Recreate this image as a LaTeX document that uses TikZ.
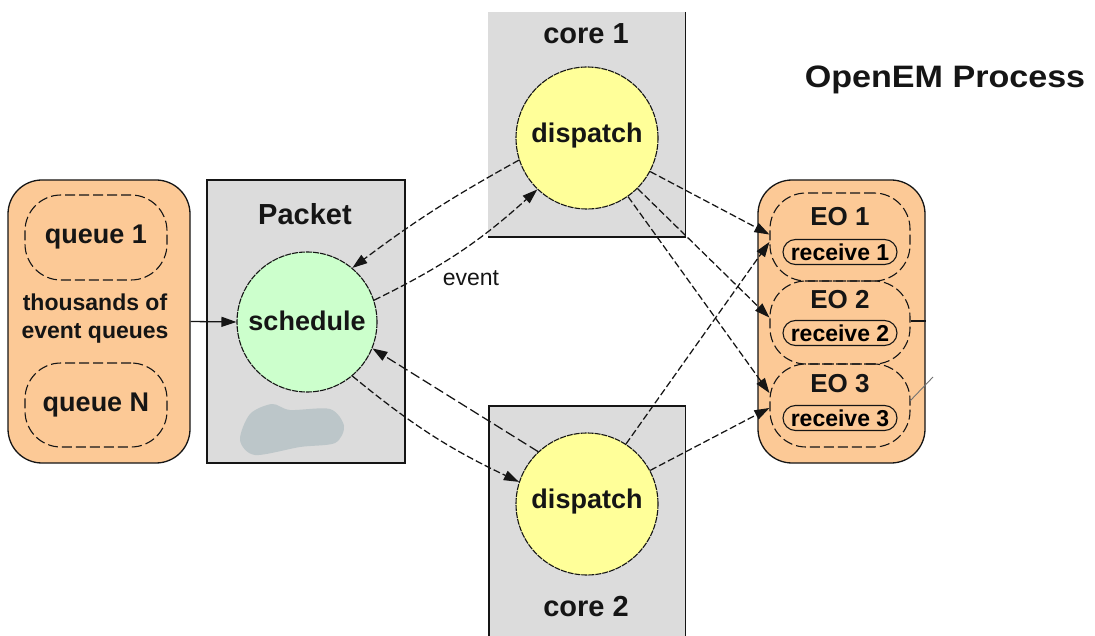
\documentclass[tikz,border=0pt]{standalone}
\usepackage{fontspec}
\setmainfont{Liberation Sans}
\usetikzlibrary{arrows.meta}

\definecolor{peach}{HTML}{FCC996}
\definecolor{boxgray}{HTML}{DCDCDC}
\definecolor{mint}{HTML}{CCFFCC}
\definecolor{lemon}{HTML}{FFFF99}
\definecolor{smudge}{HTML}{BCC6C9}
\definecolor{ink}{HTML}{151515}

\tikzset{
  holder/.style={draw=ink, line width=1.3pt, fill=peach, rounded corners=34pt, inner sep=0pt},
  panel/.style={fill=boxgray, inner sep=0pt},
  slot/.style={draw=ink, line width=1.1pt, dash pattern=on 10pt off 4pt, rounded corners=36pt, inner sep=0pt},
  pill/.style={draw=ink, line width=1.1pt, rounded corners=12.5pt, minimum width=114, minimum height=25, inner sep=0pt, font=\bfseries\fontsize{23}{25}\selectfont},
  disc/.style={circle, draw=ink, line width=1.1pt, dash pattern=on 6pt off 1pt, minimum size=142, inner sep=0pt},
  label/.style={font=\bfseries\fontsize{27}{30}\selectfont, text=ink, inner sep=0pt},
  conn/.style={draw=ink, line width=1.25pt, dash pattern=on 7pt off 3pt, -{Triangle[length=15pt,width=10pt]}},
  feed/.style={draw=ink, line width=1.3pt, -{Triangle[length=15pt,width=10pt]}},
}

\begin{document}
\begin{tikzpicture}[x=1pt,y=-1pt]
\useasboundingbox (0,0) rectangle (1095,636);

% event queue container
\node[holder, minimum width=182, minimum height=283] (qbox) at (99,321.5) {};
\node[slot, minimum width=142, minimum height=85] (q1) at (96,237.5) {};
\node[label] (q1t) at (96,237) {queue 1};
\node[slot, minimum width=142, minimum height=84] (qn) at (96,405) {};
\node[label] (qnt) at (96,405) {queue N};
\node[font=\bfseries\fontsize{23}{28}\selectfont, text=ink, align=center, inner sep=0pt] (qtxt) at (95,319) {thousands of\\event queues};

% packet scheduler
\node[panel, draw=ink, line width=1.1pt, minimum width=198, minimum height=283] (pk) at (306,321.5) {};
\node[label, font=\bfseries\fontsize{29}{32}\selectfont] (pkt) at (305,214) {Packet};
\fill[smudge] plot[smooth cycle] coordinates {(240,440) (250,414) (272,404) (290,410) (330,409) (344,426) (335,443) (300,447) (255,455)};
\node[disc, fill=mint, minimum size=140] (sch) at (307,322) {};
\node[label] (scht) at (307,321) {schedule};

% core 1
\node[panel, minimum width=197, minimum height=225] (c1) at (586.5,124.5) {};
\draw[ink, line width=1.4pt] (c1.north east) -- (c1.south east) -- (c1.south west);
\node[label, font=\bfseries\fontsize{29}{32}\selectfont] (c1t) at (586,34) {core 1};
\node[disc, fill=lemon] (d1) at (587,138) {};
\node[label] (d1t) at (587,136) {dispatch};

% core 2
\node[panel, minimum width=196, minimum height=230] (c2) at (587,521) {};
\draw[ink, line width=1.4pt] (c2.south west) -- (c2.north west) -- (c2.north east) -- (c2.south east);
\node[label, font=\bfseries\fontsize{29}{32}\selectfont] (c2t) at (586,607) {core 2};
\node[disc, fill=lemon] (d2) at (587,504) {};
\node[label] (d2t) at (587,502) {dispatch};

% execution objects
\node[holder, minimum width=167, minimum height=283] (ebox) at (841.5,321.5) {};
\node[slot, minimum width=140, minimum height=88] (eo1) at (840,237) {};
\node[slot, minimum width=140, minimum height=83] (eo2) at (840,322.5) {};
\node[slot, minimum width=140, minimum height=83] (eo3) at (840,405.5) {};
\node[label, font=\bfseries\fontsize{26}{28}\selectfont] (eo1t) at (840,217) {EO 1};
\node[label, font=\bfseries\fontsize{26}{28}\selectfont] (eo2t) at (840,300) {EO 2};
\node[label, font=\bfseries\fontsize{26}{28}\selectfont] (eo3t) at (840,384) {EO 3};
\node[pill] (r1) at (840,252) {receive 1};
\node[pill] (r2) at (840,333) {receive 2};
\node[pill] (r3) at (840,418) {receive 3};
\coordinate (tickA) at (911,321);
\draw[ink, line width=1.1pt] (tickA) -- (tickA -| ebox.east);
\coordinate (slA) at (910,401);
\coordinate (slB) at (933,377);
\draw[ink!60, line width=0.9pt] (slA) -- (slB);

% title
\node[font=\bfseries\fontsize{31}{34}\selectfont, text=ink, xscale=1.1, inner sep=0pt] (title) at (945,80) {OpenEM Process};

% scheduler <-> dispatchers
\draw[feed] (qbox.east) -- (sch.west);
\draw[conn] (d1.198) to[bend right=4] (sch.50);
\draw[conn] (sch.18) to[bend right=8] (d1.226);
\node[font=\fontsize{23}{25}\selectfont, text=ink, inner sep=0pt] (evt) at (471,278) {event};
\draw[conn, dash pattern=on 10pt off 4pt] (d2.133) -- (sch.338);
\draw[conn] (sch.310) to[bend right=7] (d2.162);

% dispatchers -> execution objects
\draw[conn] (d1.332) -- (eo1.178);
\draw[conn] (d1.315) -- (eo2.176);
\draw[conn] (d1.305) -- (eo3.170);
\draw[conn] (d2.57) -- (eo1.184);
\draw[conn] (d2.28) -- (eo3.182);
\end{tikzpicture}
\end{document}
